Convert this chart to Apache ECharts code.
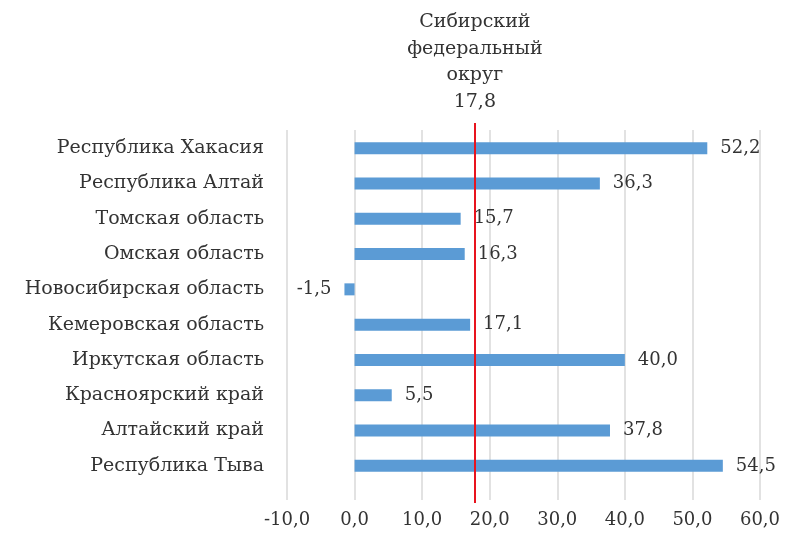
<!DOCTYPE html>
<html>
<head>
<meta charset="utf-8">
<script src="https://cdn.jsdelivr.net/npm/echarts@6/dist/echarts.min.js"></script>
<style>
  html, body { margin: 0; padding: 0; background: #fff; }
  #chart { width: 790px; height: 536px; }
</style>
</head>
<body>
<div id="chart"></div>
<script>
(function(window){
    // данные
    let regions = ['Республика Хакасия', 'Республика Алтай', 'Томская область', 'Омская область',
        'Новосибирская область', 'Кемеровская область', 'Иркутская область', 'Красноярский край',
        'Алтайский край', 'Республика Тыва'];
    let values = [52.2, 36.3, 15.7, 16.3, -1.5, 17.1, 40.0, 5.5, 37.8, 54.5];
    let districtName = ['Сибирский', 'федеральный', 'округ'];
    let districtValue = 17.8;
    let axisMin = -10, axisMax = 60, axisStep = 10;

    const serif = 'DejaVu Serif';
    const fmt = v => v.toFixed(1).replace('.', ',');

    function init(){
        let myChart = echarts.init(document.getElementById('chart'));
        let option = {
            animation: false,
            grid: [
                { left: 287, right: 30, top: 130, height: 370 },   // сетка и подписи оси
                { left: 287, right: 30, top: 130.5, height: 353 }, // столбцы
                { left: 287, right: 30, top: 123, height: 380 }    // красная линия
            ],
            xAxis: [
                {
                    gridIndex: 0, type: 'value', min: axisMin, max: axisMax, interval: axisStep,
                    axisLine: { show: false }, axisTick: { show: false },
                    splitLine: { show: true, lineStyle: { color: '#d9d9d9', width: 1.5 } },
                    axisLabel: { formatter: fmt, fontFamily: serif, fontSize: 18, color: '#333', margin: 11 }
                },
                { gridIndex: 1, type: 'value', min: axisMin, max: axisMax, show: false },
                { gridIndex: 2, type: 'value', min: axisMin, max: axisMax, show: false }
            ],
            yAxis: [
                { gridIndex: 0, type: 'value', show: false },
                {
                    gridIndex: 1, type: 'category', data: regions, inverse: true,
                    axisLine: { show: false }, axisTick: { show: false },
                    axisLabel: { fontFamily: serif, fontSize: 19, color: '#333', margin: 23 }
                },
                { gridIndex: 2, type: 'value', show: false, min: 0, max: 1 }
            ],
            series: [
                {
                    type: 'bar', xAxisIndex: 1, yAxisIndex: 1,
                    data: values.map(v => ({
                        value: v,
                        label: { position: v < 0 ? 'left' : 'right' }
                    })),
                    barWidth: 12,
                    itemStyle: { color: '#5b9bd5' },
                    label: {
                        show: true, distance: 13, fontFamily: serif, fontSize: 18, color: '#333',
                        formatter: p => fmt(p.value)
                    }
                },
                {
                    type: 'line', xAxisIndex: 2, yAxisIndex: 2, data: [],
                    markLine: {
                        silent: true, symbol: ['none', 'none'],
                        lineStyle: { color: '#e8141e', width: 2, type: 'solid' },
                        label: {
                            show: true, position: 'end', distance: 8,
                            fontFamily: serif, fontSize: 19, lineHeight: 26.5, color: '#333',
                            align: 'center',
                            formatter: () => districtName.join('\n') + '\n' + fmt(districtValue)
                        },
                        data: [{ xAxis: districtValue }]
                    }
                }
            ]
        };
        myChart.setOption(option);
    }

    window.onload = ()=>{
        init();
    }
})(window)
</script>
</body>
</html>
